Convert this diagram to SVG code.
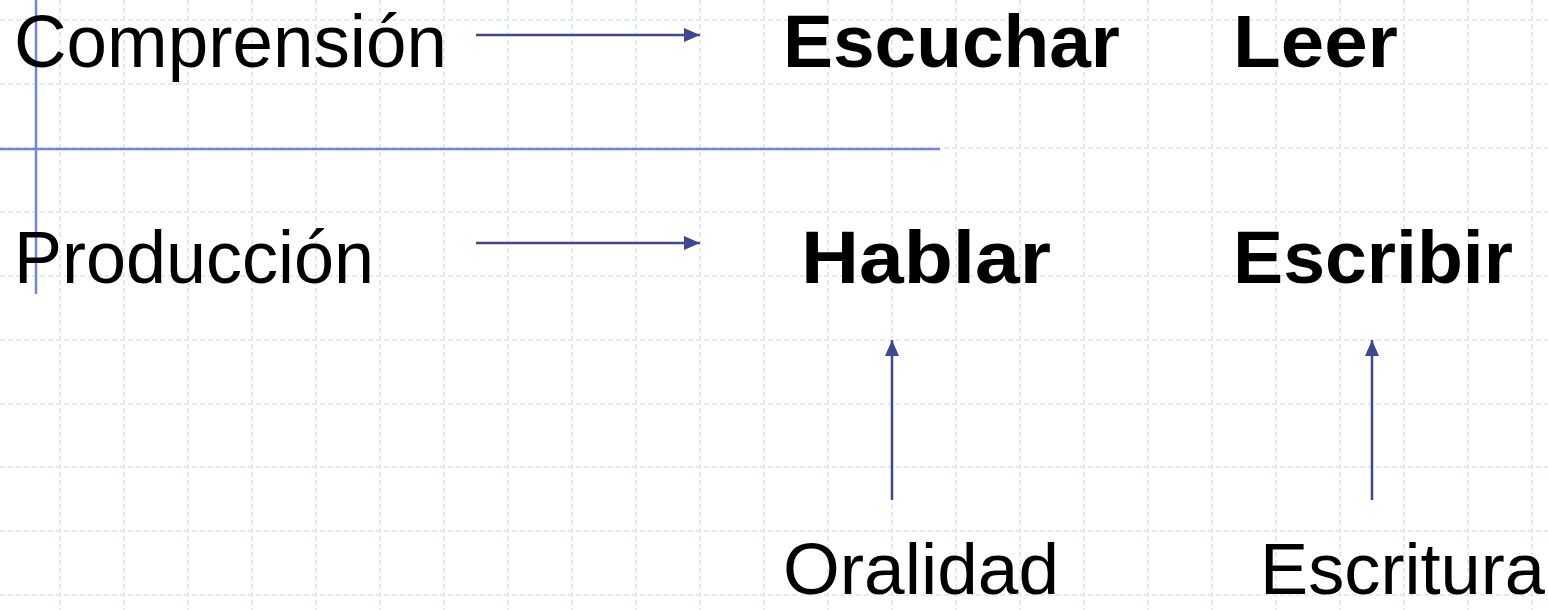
<svg xmlns="http://www.w3.org/2000/svg" width="1548" height="610" viewBox="0 0 1548 610">
<defs>
<style>
.grid{stroke:#dce3fb;stroke-width:1.5;stroke-dasharray:5 3;fill:none}
.guide{stroke:#6f86e8;stroke-width:2.5;fill:none}
.conn{stroke:#3f4794;stroke-width:2.5;fill:none}
.reg{font-family:"Liberation Sans",Arial,sans-serif;font-size:74px;fill:#000}
.low{font-family:"Liberation Sans",Arial,sans-serif;font-size:72px;fill:#000}
.bold{font-family:"Liberation Sans",Arial,sans-serif;font-size:74px;font-weight:bold;fill:#000}
</style>
<marker id="ah" markerWidth="16" markerHeight="14" refX="16" refY="7" orient="auto" markerUnits="userSpaceOnUse">
<path d="M0,0 L16,7 L0,14 Z" fill="#3f4794"/>
</marker>
</defs>
<rect width="1548" height="610" fill="#fff"/>
<g id="grid">
<path class="grid" d="M60,0V610M124,0V610M188,0V610M252,0V610M316,0V610M380,0V610M444,0V610M508,0V610M572,0V610M636,0V610M700,0V610M764,0V610M828,0V610M892,0V610M956,0V610M1020,0V610M1084,0V610M1148,0V610M1212,0V610M1276,0V610M1340,0V610M1404,0V610M1468,0V610M1532,0V610"/>
<path class="grid" d="M0,20H1548M0,84H1548M0,148H1548M0,212H1548M0,276H1548M0,340H1548M0,404H1548M0,467H1548M0,531H1548M0,595H1548"/>
<line class="guide" x1="36" y1="0" x2="36" y2="294"/>
<line class="guide" x1="0" y1="149" x2="940" y2="149"/>
</g>
<g id="connectors">
<line class="conn" x1="476" y1="35" x2="700" y2="35" marker-end="url(#ah)"/>
<line class="conn" x1="476" y1="243" x2="700" y2="243" marker-end="url(#ah)"/>
<line class="conn" x1="892" y1="500" x2="892" y2="340" marker-end="url(#ah)"/>
<line class="conn" x1="1372" y1="500" x2="1372" y2="340" marker-end="url(#ah)"/>
</g>
<g id="comprension"><text class="reg" x="14" y="67" textLength="433" lengthAdjust="spacingAndGlyphs">Comprensión</text></g>
<g id="produccion"><text class="reg" x="14" y="283" textLength="360" lengthAdjust="spacingAndGlyphs">Producción</text></g>
<g id="escuchar"><text class="bold" x="783" y="67" textLength="337" lengthAdjust="spacingAndGlyphs">Escuchar</text></g>
<g id="leer"><text class="bold" x="1233" y="67" textLength="165" lengthAdjust="spacingAndGlyphs">Leer</text></g>
<g id="hablar"><text class="bold" x="801" y="283" textLength="250" lengthAdjust="spacingAndGlyphs">Hablar</text></g>
<g id="escribir"><text class="bold" x="1233" y="283" textLength="280" lengthAdjust="spacingAndGlyphs">Escribir</text></g>
<g id="oralidad"><text class="low" x="783" y="594" textLength="276" lengthAdjust="spacingAndGlyphs">Oralidad</text></g>
<g id="escritura"><text class="low" x="1260" y="594" textLength="285" lengthAdjust="spacingAndGlyphs">Escritura</text></g>
</svg>
